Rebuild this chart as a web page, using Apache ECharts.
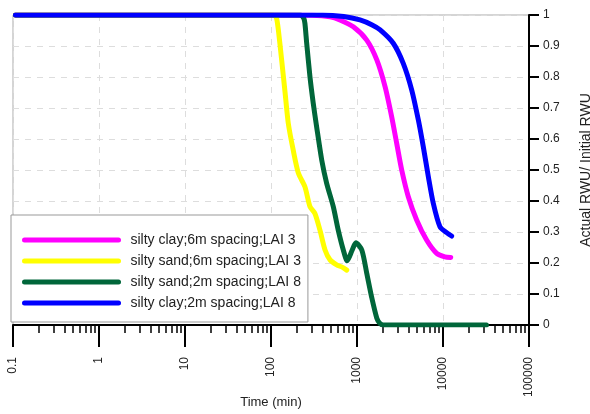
<!DOCTYPE html>
<html>
<head>
<meta charset="utf-8">
<script src="https://cdn.jsdelivr.net/npm/echarts@6/dist/echarts.min.js"></script>
<style>
  html, body { margin: 0; padding: 0; background: #fff; }
  #chart { width: 590px; height: 414px; }
</style>
</head>
<body>
<div id="chart"></div>
<script>
// series names (legend order)
const names = [
  'silty clay;6m spacing;LAI 3',
  'silty sand;6m spacing;LAI 3',
  'silty sand;2m spacing;LAI 8',
  'silty clay;2m spacing;LAI 8'
];
const colors = ['#ff00ff', '#ffff00', '#00663a', '#0000ff'];

// time (min) / RWU ratio
const clay6Time = [0.107, 10, 100, 300, 486, 632, 906, 1298, 1700, 2120, 2530, 2890, 3310, 3950, 4940, 6450, 8450, 10500, 12300];
const clay6Rwu  = [1, 1, 1, 0.999, 0.994, 0.984, 0.962, 0.919, 0.855, 0.769, 0.672, 0.587, 0.5, 0.414, 0.339, 0.274, 0.231, 0.22, 0.218];

const sand6Time = [0.107, 10, 100, 110, 116, 122, 133, 146, 159, 181, 208, 248, 284, 324, 371, 425, 486, 581, 680, 760];
const sand6Rwu  = [1, 1, 1, 0.998, 0.99, 0.95, 0.855, 0.748, 0.65, 0.565, 0.49, 0.446, 0.382, 0.36, 0.306, 0.242, 0.21, 0.194, 0.186, 0.177];

const sand2Time = [0.107, 10, 100, 217, 240, 248, 260, 284, 310, 339, 389, 444, 530, 605, 693, 770, 880, 970, 1137, 1298, 1480, 1700, 1850, 2020, 5000, 32000];
const sand2Rwu  = [1, 1, 1, 1, 0.99, 0.973, 0.909, 0.8, 0.715, 0.64, 0.532, 0.457, 0.382, 0.306, 0.242, 0.207, 0.242, 0.265, 0.242, 0.167, 0.09, 0.022, 0.005, 0, 0, 0];

const clay2Time = [0.107, 10, 100, 400, 700, 1084, 1500, 1860, 2640, 3450, 4330, 5170, 5900, 6760, 7720, 9220, 11040, 12600];
const clay2Rwu  = [1, 1, 1, 1, 0.995, 0.984, 0.968, 0.952, 0.909, 0.844, 0.758, 0.661, 0.575, 0.478, 0.392, 0.317, 0.298, 0.287];

// minor tick positions on the time axis (2..9 within each decade)
const decades = [0.1, 1, 10, 100, 1000, 10000];
const minorTicks = [];
decades.forEach(d => { for (let k = 2; k <= 9; k++) minorTicks.push(k * d); });

const allTime = [clay6Time, sand6Time, sand2Time, clay2Time];
const allRwu = [clay6Rwu, sand6Rwu, sand2Rwu, clay2Rwu];

const font = 'Liberation Sans, Arial, sans-serif';

const chart = echarts.init(document.getElementById('chart'));
chart.setOption({
  animation: false,
  grid: {
    left: 13, right: 61, top: 15, bottom: 89,
    outerBoundsMode: 'none',
    show: true, borderColor: '#aaa', borderWidth: 1
  },
  legend: {
    orient: 'vertical',
    left: 11, top: 215,
    padding: [18, 7, 12, 11],
    itemWidth: 94, itemHeight: 14, itemGap: 7,
    backgroundColor: '#fff',
    borderColor: '#999', borderWidth: 1,
    itemStyle: { opacity: 0 },
    lineStyle: { width: 5, cap: 'round' },
    textStyle: { fontSize: 14, lineHeight: 14, fontFamily: font, color: '#222', padding: [0, 0, 0, 7] },
    data: names
  },
  xAxis: [
    {
      type: 'log', logBase: 10,
      min: 0.1, max: 100000,
      name: 'Time (min)', nameLocation: 'middle', nameGap: 71,
      nameMoveOverlap: false,
      nameTextStyle: { fontSize: 13, fontFamily: font, color: '#222' },
      axisLine: { lineStyle: { color: '#000', width: 2 } },
      axisTick: { length: 22, lineStyle: { color: '#000', width: 2 } },
      axisLabel: {
        rotate: 90, margin: 32, fontSize: 12, fontFamily: font, color: '#222',
        formatter: v => String(+v.toPrecision(6))
      },
      splitLine: { show: true, lineStyle: { color: '#ddd', type: [6, 6] } },
      minorTick: { show: false }
    },
    {
      // helper axis in log10 space, only for the minor ticks
      type: 'value', min: -1, max: 5, position: 'bottom',
      axisLine: { show: false },
      axisLabel: { show: false },
      splitLine: { show: false },
      axisTick: {
        length: 8,
        customValues: minorTicks.map(v => Math.log10(v)),
        lineStyle: { color: '#000', width: 1.5 }
      }
    }
  ],
  yAxis: {
    type: 'value', position: 'right',
    min: 0, max: 1, interval: 0.1,
    name: 'Actual RWU/ Initial RWU', nameLocation: 'middle', nameGap: 50, nameRotate: 90,
    nameTextStyle: { fontSize: 14, fontFamily: font, color: '#222' },
    axisLine: { show: true, onZero: false, lineStyle: { color: '#000', width: 2 } },
    axisTick: { show: true, length: 10, lineStyle: { color: '#000', width: 2 } },
    axisLabel: { margin: 14, fontSize: 12, fontFamily: font, color: '#222' },
    splitLine: { show: true, lineStyle: { color: '#ddd', type: [6, 6] } }
  },
  series: names.map((name, i) => ({
    name: name,
    type: 'line',
    xAxisIndex: 0,
    data: allTime[i].map((t, j) => [t, allRwu[i][j]]),
    symbol: 'none',
    smooth: 0.25,
    color: colors[i],
    lineStyle: { width: 5, color: colors[i], cap: 'round', join: 'round' }
  }))
});
</script>
</body>
</html>
